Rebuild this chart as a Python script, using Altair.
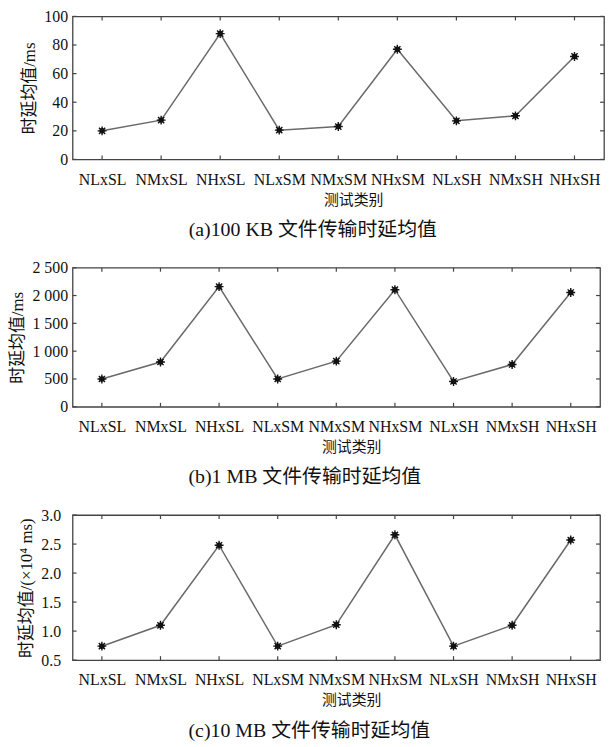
import altair as alt
import pandas as pd

categories = ["NLxSL", "NMxSL", "NHxSL", "NLxSM", "NMxSM", "NHxSM", "NLxSH", "NMxSH", "NHxSH"]
vals_100kb = [20, 27.5, 88, 20.5, 23, 77, 27, 30.5, 72]
vals_1mb = [500, 805, 2160, 500, 820, 2105, 455, 760, 2055]
vals_10mb = [0.74, 1.10, 2.48, 0.74, 1.11, 2.66, 0.74, 1.10, 2.57]

ticks_a = [0, 20, 40, 60, 80, 100]
ticks_b = [0, 500, 1000, 1500, 2000, 2500]
ticks_c = [0.5, 1.0, 1.5, 2.0, 2.5, 3.0]

title_a = "时延均值/ms"
title_b = "时延均值/ms"
title_c = "时延均值/(×10⁴ ms)"
captions = ["(a)100 KB 文件传输时延均值", "(b)1 MB 文件传输时延均值", "(c)10 MB 文件传输时延均值"]
xtitle = "测试类别"

SERIF = "Liberation Serif"
MIX = "Liberation Serif, Noto Sans CJK SC"
CJK = "Noto Sans CJK SC"

STAR = "M-1,0H1M0,-1V1M-0.7,-0.7L0.7,0.7M-0.7,0.7L0.7,-0.7"


def panel(vals, yticks, W, H, ytitle, label_pad, label_expr, caption):
    df = pd.DataFrame({"cat": categories, "v": vals})
    tdf = pd.DataFrame({"v": yticks})
    yscale = alt.Scale(domain=[yticks[0], yticks[-1]], nice=False, zero=False)
    xscale = alt.Scale(type="point", padding=0.5)
    x = alt.X("cat:N", sort=categories, scale=xscale,
              axis=alt.Axis(title=xtitle, ticks=False, domain=False, grid=False,
                            labelFont=SERIF, labelFontSize=16, labelColor="#111",
                            labelPadding=12, labelAngle=0,
                            titleFont=CJK, titleFontSize=15, titleFontWeight="normal",
                            titleColor="#111", titlePadding=5, titleX=W / 2 + 15))
    y = alt.Y("v:Q", scale=yscale,
              axis=alt.Axis(title=ytitle, values=yticks, ticks=False, domain=False, grid=False,
                            labelFont=SERIF, labelFontSize=16, labelColor="#111",
                            labelPadding=label_pad, labelExpr=label_expr,
                            titleFont=MIX, titleFontSize=17, titleFontWeight="normal",
                            titleColor="#111", titlePadding=5))
    base = alt.Chart(df)
    line = base.mark_line(color="#6a6a6a", strokeWidth=1.5).encode(x=x, y=y)
    dots = base.mark_point(filled=True, shape="circle", size=30, color="#111", opacity=1).encode(x=x, y=y)
    stars = base.mark_point(filled=False, shape=STAR, size=80, color="#111", strokeWidth=1.4, opacity=1).encode(x=x, y=y)
    xt_bot = base.mark_rule(color="#444", strokeWidth=1.2).encode(
        x=x, y=alt.value(H - 4), y2=alt.value(H))
    xt_top = base.mark_rule(color="#444", strokeWidth=1.2).encode(
        x=x, y=alt.value(0), y2=alt.value(4))
    tb = alt.Chart(tdf)
    yt_left = tb.mark_rule(color="#444", strokeWidth=1.2).encode(
        y=y, x=alt.value(0), x2=alt.value(4))
    yt_right = tb.mark_rule(color="#444", strokeWidth=1.2).encode(
        y=y, x=alt.value(W - 4), x2=alt.value(W))
    return alt.layer(line, xt_bot, xt_top, yt_left, yt_right, dots, stars).properties(
        width=W, height=H,
        title=alt.TitleParams(caption, orient="bottom", anchor="middle", frame="bounds",
                              font=MIX, fontSize=20, fontWeight="normal", color="#111", offset=13),
    )


pa = panel(vals_100kb, ticks_a, 535, 144, title_a, 5, "format(datum.value, 'd')", captions[0])
pb = panel(vals_1mb, ticks_b, 531, 140, title_b, 5,
           "replace(format(datum.value, ','), ',', ' ')", captions[1])
pc = panel(vals_10mb, ticks_c, 531, 146, title_c, 12, "format(datum.value, '.1f')", captions[2])

chart = alt.vconcat(pa, pb, pc, spacing=18).properties(
    padding={"top": -3, "left": 0, "right": 0, "bottom": 0}, background="white"
).configure_view(stroke="#444", strokeWidth=1.3, fill="white")

chart.save("out.html", embed_options={"renderer": "svg", "actions": False})
